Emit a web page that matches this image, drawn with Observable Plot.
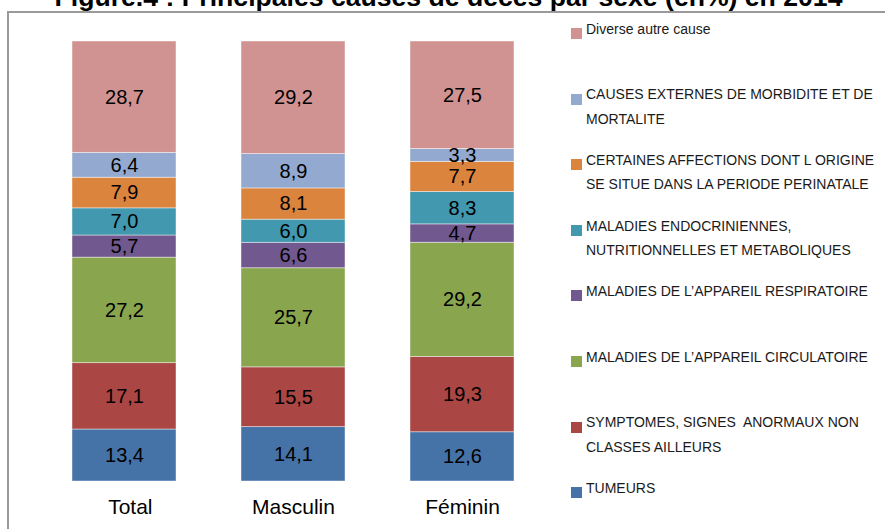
<!DOCTYPE html>
<html>
<head>
<meta charset="utf-8">
<script src="https://cdn.jsdelivr.net/npm/d3@7"></script>
<script src="https://cdn.jsdelivr.net/npm/@observablehq/plot@0.6"></script>
<style>
  html, body { margin: 0; padding: 0; background: #fff; overflow: hidden; }
  #wrap { position: relative; width: 885px; height: 529px; overflow: hidden; font-family: "Liberation Sans", Arial, sans-serif; }
  #frame { position: absolute; left: 7px; top: 11px; width: 1000px; height: 700px; border: 2px solid #9a9a9a; box-sizing: border-box; }
  #title { position: absolute; left: 0; width: 897px; top: -17.7px; line-height: 30px; text-align: center; font-weight: bold; font-size: 26.6px; color: #000; white-space: nowrap; }
  #chart { position: absolute; left: 0; top: 0; }
  .leg { position: absolute; left: 586px; font-size: 14px; line-height: 24.3px; color: #1a1a1a; white-space: pre; }
  .sw { position: absolute; left: 571px; width: 11px; height: 11px; }
</style>
</head>
<body>
<div id="wrap">
  <div id="frame"></div>
  <div id="title">Figure.4 : Principales causes de décès par sexe (en%) en 2014</div>
  <div id="chart"></div>
</div>
<script>
// Categories (x axis)
const categories = ["Total", "Masculin", "Féminin"];

// Causes, from bottom of the stack to the top (legend shows them reversed)
const causes = [
  "TUMEURS",
  "SYMPTOMES, SIGNES  ANORMAUX NON\nCLASSES AILLEURS",
  "MALADIES DE L’APPAREIL CIRCULATOIRE",
  "MALADIES DE L’APPAREIL RESPIRATOIRE",
  "MALADIES ENDOCRINIENNES,\nNUTRITIONNELLES ET METABOLIQUES",
  "CERTAINES AFFECTIONS DONT L ORIGINE\nSE SITUE DANS LA PERIODE PERINATALE",
  "CAUSES EXTERNES DE MORBIDITE ET DE\nMORTALITE",
  "Diverse autre cause"
];

// Series values (Total, Masculin, Féminin)
const tumeurs      = [13.4, 14.1, 12.6];
const symptomes    = [17.1, 15.5, 19.3];
const circulatoire = [27.2, 25.7, 29.2];
const respiratoire = [5.7, 6.6, 4.7];
const endocrin     = [7.0, 6.0, 8.3];
const perinatale   = [7.9, 8.1, 7.7];
const externes     = [6.4, 8.9, 3.3];
const diverse      = [28.7, 29.2, 27.5];

const colors = ["#4572A7", "#AA4643", "#89A54E", "#71588F", "#4198AF", "#DB843D", "#93A9CF", "#D19392"];

const series = [tumeurs, symptomes, circulatoire, respiratoire, endocrin, perinatale, externes, diverse];
const data = [];
series.forEach((vals, i) => {
  vals.forEach((v, j) => data.push({cat: categories[j], cause: causes[i], value: v}));
});

const fmt = v => v.toFixed(1).replace(".", ",");

const plot = Plot.plot({
  width: 885,
  height: 529,
  marginTop: 41,
  marginBottom: 48,
  marginLeft: 5,
  marginRight: 305,
  style: {fontFamily: '"Liberation Sans", Arial, sans-serif', background: "transparent", overflow: "visible"},
  x: {domain: categories, padding: 0.387, axis: null},
  y: {axis: null},
  color: {domain: causes, range: colors},
  marks: [
    Plot.barY(data, Plot.stackY({x: "cat", y: "value", z: "cause", fill: "cause", offset: "normalize",
      stroke: "#ffffff", strokeOpacity: 0.55, strokeWidth: 0.8})),
    Plot.text(data, Plot.stackY({x: "cat", y: "value", z: "cause", offset: "normalize",
      text: d => fmt(d.value), fontSize: 20, fill: "#000"})),
    Plot.axisX({tickSize: 0, tickPadding: 18, fontSize: 21, label: null, fill: "#000",
      tickFormat: d => d === "Total" ? "\u00a0\u00a0Total" : d})
  ]
});
document.getElementById("chart").appendChild(plot);

// Legend (HTML), top to bottom = reversed stack order
const wrap = document.getElementById("wrap");
const legendOrder = causes.map((c, i) => i).reverse();
legendOrder.forEach((idx, k) => {
  const center = 29 + k * 65.6;
  const sw = document.createElement("div");
  sw.className = "sw";
  sw.style.top = (center - 1) + "px";
  sw.style.background = colors[idx];
  wrap.appendChild(sw);
  const t = document.createElement("div");
  t.className = "leg";
  t.style.top = (center - 12.15) + "px";
  t.textContent = causes[idx];
  wrap.appendChild(t);
});
</script>
</body>
</html>
